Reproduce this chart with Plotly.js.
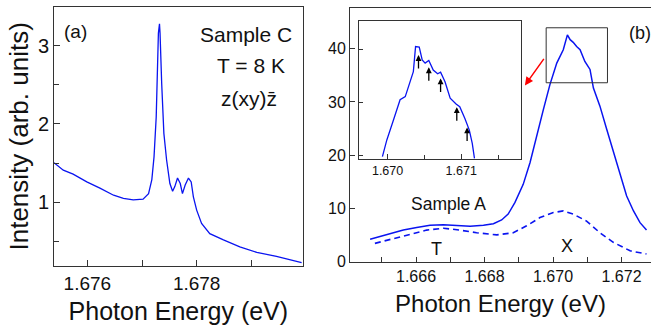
<!DOCTYPE html>
<html>
<head>
<meta charset="utf-8">
<script src="https://cdn.plot.ly/plotly-3.0.1.min.js"></script>
<style>html,body{margin:0;padding:0;background:#fff;}#chart{width:651px;height:330px;}</style>
</head>
<body>
<div id="chart"></div>
<script>
// Panel (a): Sample C, T = 8 K
const energyA = [1.67539,1.67556,1.67574,1.67599,1.67623,1.67648,1.67666,1.67684,1.67702,1.67712,1.67718,1.67722,1.67726,1.67729,1.67730,1.67732,1.67733,1.67736,1.67740,1.67745,1.67751,1.67756,1.67760,1.67765,1.67770,1.67774,1.67779,1.67785,1.67790,1.67794,1.67800,1.67809,1.67824,1.67849,1.67879,1.67910,1.67946,1.67992];
const intensityA = [1.506,1.41,1.36,1.26,1.18,1.09,1.05,1.03,1.04,1.11,1.29,1.58,2.09,2.73,3.16,3.28,3.16,2.52,1.88,1.54,1.24,1.14,1.20,1.31,1.24,1.11,1.22,1.31,1.26,1.07,0.90,0.73,0.60,0.52,0.43,0.36,0.31,0.23];

// Panel (b): Sample A, solid spectrum
const energyB = [1.66466,1.66514,1.66563,1.66602,1.66641,1.66680,1.66719,1.66758,1.66797,1.66826,1.66850,1.66869,1.66889,1.66913,1.66933,1.66952,1.66972,1.66991,1.67011,1.67030,1.67042,1.67050,1.67059,1.67069,1.67079,1.67093,1.67108,1.67118,1.67137,1.67157,1.67176,1.67196,1.67215,1.67235,1.67254,1.67273];
const intensityB = [4.19,5.1,5.9,6.4,6.8,6.9,6.7,6.6,6.8,7.1,7.8,8.9,11.1,14.5,18.6,23.6,28.6,33.25,37.3,39.8,42.6,41.7,41.2,40.4,39.8,37.6,36.1,32.6,29.2,24.8,20.75,16.1,12.3,9.5,7.3,5.9];

// Panel (b): dashed spectrum
const energyBd = [1.66480,1.66534,1.66582,1.66631,1.66680,1.66728,1.66777,1.66836,1.66884,1.66923,1.66962,1.67001,1.67030,1.67059,1.67098,1.67137,1.67176,1.67225,1.67273];
const intensityBd = [3.4,4.3,5.1,5.9,6.25,5.9,5.4,5.0,5.4,6.7,8.25,9.2,9.5,8.9,7.6,5.4,3.6,2.0,1.4];

// Inset: zoomed peak
const energyInset = [1.66993,1.66999,1.67008,1.67017,1.67024,1.67031,1.67035,1.67038,1.67043,1.67047,1.67051,1.67056,1.67062,1.67068,1.67072,1.67078,1.67085,1.67093,1.67098,1.67105,1.67111,1.67115,1.67118];
const intensityInset = [19.8,22.95,26.7,30.5,31.1,33.9,35.8,40.5,40.4,38.0,37.4,37.9,36.1,35.4,35.7,33.9,30.8,29.7,29.2,27.0,24.8,22.3,19.5];

// Inset arrows (positions of fine structure)
const arrowEnergy = [1.67042,1.67056,1.67072,1.67094,1.67108];
const arrowIntensity = [38.9,36.6,34.5,29.1,25.3];

// Box on main peak marking the inset region
const boxEnergy = [1.66980,1.67159];
const boxIntensity = [33.6,43.94];

const W = 651, H = 330;
const px = x => x / W;
const py = y => 1 - y / H;
const FONT = 'Liberation Sans, Arial, sans-serif';
const BLUE = '#0a14f0';
const AX = '#333333';

const traces = [
  {x: energyA, y: intensityA, xaxis: 'x', yaxis: 'y', mode: 'lines', line: {color: BLUE, width: 1.3}, hoverinfo: 'skip'},
  {x: energyB, y: intensityB, xaxis: 'x2', yaxis: 'y2', mode: 'lines', line: {color: BLUE, width: 1.5}, hoverinfo: 'skip'},
  {x: energyBd, y: intensityBd, xaxis: 'x2', yaxis: 'y2', mode: 'lines', line: {color: BLUE, width: 1.6, dash: '6px,4px'}, hoverinfo: 'skip'},
  {x: energyInset, y: intensityInset, xaxis: 'x3', yaxis: 'y3', mode: 'lines', line: {color: BLUE, width: 1.3}, hoverinfo: 'skip'}
];

const baseAxis = {showgrid: false, zeroline: false, showline: true, linecolor: AX, linewidth: 1, ticks: 'inside', tickcolor: AX, fixedrange: true, automargin: false};

function label(text, x, y, size) {
  return {text: text, x: px(x), y: py(y), xref: 'paper', yref: 'paper', xanchor: 'center', yanchor: 'middle', showarrow: false, font: {size: size, family: FONT, color: '#111'}};
}

const annotations = [
  label('(a)', 75, 31, 19),
  label('Sample C', 246, 34, 21),
  label('T = 8 K', 251, 65, 21),
  label('z(xy)z\u0304', 249, 98, 21),
  label('(b)', 640, 33, 18),
  label('Sample A', 448, 204, 17.5),
  label('T', 436, 249, 18),
  label('X', 567, 246, 18),
  {text: '', x: 1.66918, y: 33.1, xref: 'x2', yref: 'y2', showarrow: true, ax: 20, ay: -28, arrowcolor: '#ff0000', arrowwidth: 1.5, arrowhead: 2, arrowsize: 1.1}
];
arrowEnergy.forEach((e, i) => {
  annotations.push({text: '', x: e, y: arrowIntensity[i], xref: 'x3', yref: 'y3', showarrow: true, ax: 0, ay: 15, arrowcolor: '#000', arrowwidth: 1.3, arrowhead: 2, arrowsize: 0.9});
});

const layout = {
  width: W, height: H,
  margin: {l: 0, r: 0, t: 0, b: 0, autoexpand: false},
  paper_bgcolor: '#fff', plot_bgcolor: 'rgba(0,0,0,0)',
  showlegend: false,
  font: {family: FONT, color: '#111'},
  xaxis: Object.assign({}, baseAxis, {
    domain: [px(54), px(302.7)], anchor: 'y', range: [1.67539, 1.67994],
    tick0: 1.676, dtick: 0.002, tickformat: '.3f', ticklen: 6, mirror: true,
    minor: {dtick: 0.001, tick0: 1.676, ticks: 'inside', ticklen: 6, tickcolor: AX},
    tickfont: {size: 19, family: FONT, color: '#111'},
    title: {text: 'Photon Energy (eV)', font: {size: 25, family: FONT, color: '#111'}, standoff: 9}
  }),
  yaxis: Object.assign({}, baseAxis, {
    domain: [py(265.7), py(7)], anchor: 'x', range: [0.19, 3.494],
    tick0: 0, dtick: 1, ticklen: 6, mirror: true,
    minor: {dtick: 0.5, tick0: 0, ticks: 'inside', ticklen: 5, tickcolor: AX},
    tickfont: {size: 20, family: FONT, color: '#111'},
    title: {text: 'Intensity (arb. units)', font: {size: 26, family: FONT, color: '#111'}, standoff: 1}
  }),
  xaxis2: Object.assign({}, baseAxis, {
    domain: [px(350), 1], anchor: 'y2', range: [1.664073, 1.672861],
    tick0: 1.666, dtick: 0.002, tickformat: '.3f', ticklen: 5, mirror: true,
    minor: {dtick: 0.001, tick0: 1.666, ticks: 'inside', ticklen: 5, tickcolor: AX},
    tickfont: {size: 16, family: FONT, color: '#111'},
    title: {text: 'Photon Energy (eV)', font: {size: 24, family: FONT, color: '#111'}, standoff: 10}
  }),
  yaxis2: Object.assign({}, baseAxis, {
    domain: [py(262), py(8.3)], anchor: 'x2', range: [-0.1, 47.6],
    tick0: 0, dtick: 10, ticklen: 5, mirror: false,
    tickfont: {size: 16, family: FONT, color: '#111'}
  }),
  xaxis3: Object.assign({}, baseAxis, {
    domain: [px(359.3), px(521.3)], anchor: 'y3', range: [1.669616, 1.671816],
    tick0: 1.670, dtick: 0.001, tickformat: '.3f', ticklen: 5, mirror: true,
    minor: {dtick: 0.0005, tick0: 1.670, ticks: 'inside', ticklen: 4, tickcolor: AX},
    tickfont: {size: 12.5, family: FONT, color: '#111'}
  }),
  yaxis3: Object.assign({}, baseAxis, {
    domain: [py(159.3), py(20.5)], anchor: 'x3', range: [19.31, 45.41],
    tick0: 0, dtick: 10, ticklen: 4, mirror: true, showticklabels: false
  }),
  shapes: [
    {type: 'rect', xref: 'x2', yref: 'y2', x0: boxEnergy[0], x1: boxEnergy[1], y0: boxIntensity[0], y1: boxIntensity[1], line: {color: AX, width: 1}}
  ],
  annotations: annotations
};

Plotly.newPlot('chart', traces, layout, {staticPlot: true, displayModeBar: false});
</script>
</body>
</html>
